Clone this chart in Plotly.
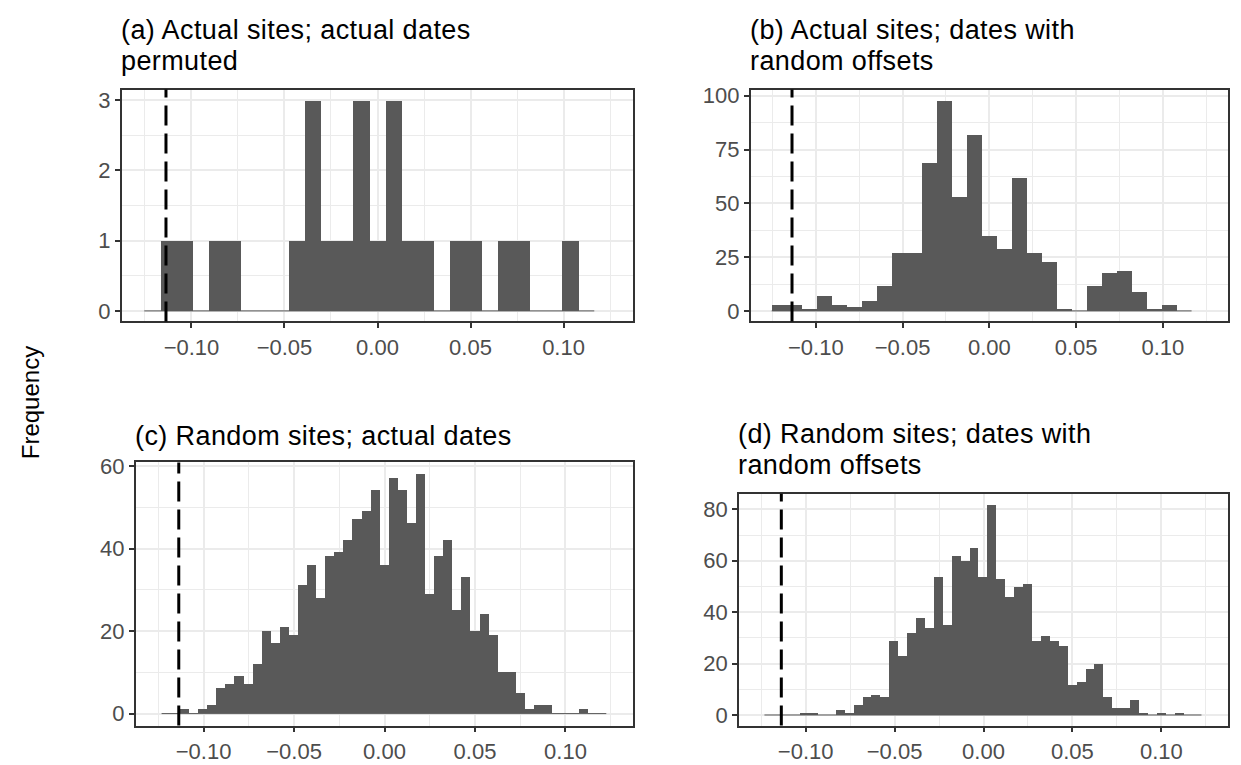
import plotly.graph_objects as go

# ---- data ----
title_lines = [
    ["(a) Actual sites; actual dates", "permuted"],
    ["(b) Actual sites; dates with", "random offsets"],
    ["(c) Random sites; actual dates"],
    ["(d) Random sites; dates with", "random offsets"],
]
counts_a = [0, 1, 1, 0, 1, 1, 0, 0, 0, 1, 3, 1, 1, 3, 1, 3, 1, 1, 0, 1, 1, 0, 1, 1, 0, 0, 1, 0]
counts_b = [3, 3, 1, 7, 3, 2, 5, 12, 27, 27, 69, 98, 53, 82, 35, 29, 62, 27, 23, 1, 0, 12, 18, 19, 9, 1, 3, 0]
counts_c = [0, 0, 1, 0, 1, 2, 6, 7, 9, 7, 12, 20, 17, 21, 19, 31, 36, 28, 38, 39, 42, 47, 49, 54, 36,
            57, 54, 46, 58, 29, 38, 42, 25, 33, 20, 24, 19, 10, 10, 5, 1, 2, 2, 0, 0, 0, 1, 0, 0]
counts_d = [0, 0, 0, 0, 1, 1, 0, 0, 2, 1, 4, 7, 8, 7, 29, 23, 32, 38, 34, 54, 35, 62, 60, 65, 54,
            82, 53, 46, 50, 51, 29, 31, 29, 27, 12, 13, 18, 20, 7, 3, 3, 6, 1, 0, 1, 0, 1, 0, 0]
bin_start_ab = -0.1254
bin_width_ab = 0.00864
bin_start_cd = -0.1232
bin_width_cd = 0.005016
observed = -0.1137
x_ticks = [-0.10, -0.05, 0.00, 0.05, 0.10]
y_dticks = [1, 25, 20, 20]

panels = [
    (counts_a, bin_start_ab, bin_width_ab),
    (counts_b, bin_start_ab, bin_width_ab),
    (counts_c, bin_start_cd, bin_width_cd),
    (counts_d, bin_start_cd, bin_width_cd),
]

# ---- layout geometry (pixels in a 1241x765 page) ----
W, H = 1241, 765
boxes = [  # left, right, top, bottom in px
    (121.7, 633.3, 81.7, 317),
    (750.7, 1228, 81.7, 317),
    (135.7, 633.3, 460, 727),
    (739, 1228, 491.7, 727),
]
title_bottoms = [70, 70, 450, 480]   # px from top: bottom of each title block

FONT = "Liberation Sans, Arial, sans-serif"
BAR = "#595959"
GRID = "#EBEBEB"
AX = "#333333"
TITLE_SIZE = 27
TITLE_LINE_BASE = 23.5   # base font of the title block; sets the line spacing (1.3 x base)
TICK_SIZE = 22

fig = go.Figure()
for i, ((cnts, b0, bw), (l, r, t, b)) in enumerate(zip(panels, boxes)):
    n = i + 1
    xa = "x" if n == 1 else f"x{n}"
    ya = "y" if n == 1 else f"y{n}"
    centers = [b0 + bw * (k + 0.5) for k in range(len(cnts))]
    fig.add_trace(go.Bar(x=centers, y=cnts, width=[bw] * len(cnts),
                         marker=dict(color=BAR, line=dict(width=0)),
                         xaxis=xa, yaxis=ya, showlegend=False, hoverinfo="x+y"))
    # zero-height bins are drawn as a thin baseline along the histogram extent
    edges = [b0 + bw * k for k in range(len(cnts) + 1)]
    fig.add_trace(go.Scatter(x=[edges[0], edges[-1]], y=[0, 0], mode="lines",
                             line=dict(color=BAR, width=1), xaxis=xa, yaxis=ya,
                             showlegend=False, hoverinfo="skip"))
    ymax = max(cnts)
    pad = ymax * 0.05
    ax_common = dict(showline=True, mirror=True, linecolor=AX, linewidth=1.6,
                     showgrid=True, gridcolor=GRID, gridwidth=2,
                     ticks="outside", ticklen=5, tickwidth=1.5, tickcolor=AX,
                     tickfont=dict(family=FONT, size=TICK_SIZE, color="#4D4D4D"),
                     zeroline=False)
    fig.update_layout(**{
        ("xaxis" if n == 1 else f"xaxis{n}"): dict(
            domain=[l / W, r / W], anchor=ya, range=[-0.1375, 0.1375],
            tickvals=x_ticks, ticktext=[f"{v:.2f}".replace("-", "\u2212") for v in x_ticks],
            minor=dict(tickvals=[-0.125, -0.075, -0.025, 0.025, 0.075, 0.125],
                       showgrid=True, gridcolor=GRID, gridwidth=1.1, ticks=""),
            **ax_common),
        ("yaxis" if n == 1 else f"yaxis{n}"): dict(
            domain=[1 - b / H, 1 - t / H], anchor=xa, range=[-pad, ymax + pad],
            tick0=0, dtick=y_dticks[i],
            minor=dict(dtick=y_dticks[i] / 2, showgrid=True, gridcolor=GRID,
                       gridwidth=1.1, ticks=""),
            **ax_common),
    })
    fig.add_shape(type="line", xref=xa, yref=f"{ya} domain", x0=observed, x1=observed,
                  y0=0, y1=1, line=dict(color="black", width=3, dash="20px,8px"))
    txt = "<br>".join(
        f'<span style="font-size:{TITLE_SIZE}px;letter-spacing:0.4px">{s}</span>'
        for s in title_lines[i])
    fig.add_annotation(text=txt, xref="paper", yref="paper", x=(l - 3) / W,
                       y=1 - title_bottoms[i] / H,
                       xanchor="left", yanchor="bottom", align="left", showarrow=False,
                       font=dict(family=FONT, size=TITLE_LINE_BASE, color="black"))

fig.add_annotation(text="Frequency", xref="paper", yref="paper", x=30 / W, y=1 - 400 / H,
                   textangle=-90, showarrow=False, xanchor="center", yanchor="middle",
                   font=dict(family=FONT, size=24, color="black"))

fig.update_layout(width=W, height=H, margin=dict(l=0, r=0, t=0, b=0),
                  plot_bgcolor="white", paper_bgcolor="white", bargap=0)
fig.write_html("out.html")
